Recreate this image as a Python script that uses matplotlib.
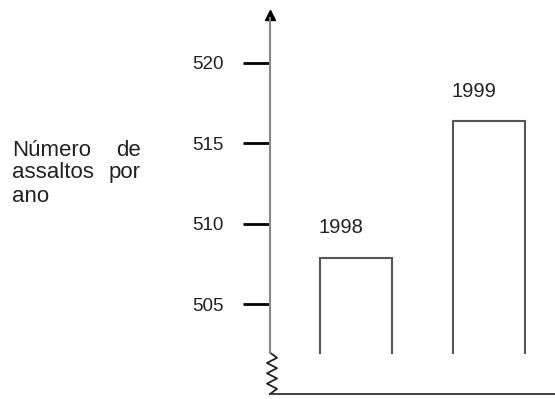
import matplotlib
matplotlib.use("Agg")
import matplotlib.pyplot as plt

years = ["1998", "1999"]
assaltos = [507.9, 516.4]
yticks = [505, 510, 515, 520]
bar_base = 502

plt.rcParams['font.family'] = ['Liberation Sans', 'DejaVu Sans']

W, H = 555, 399
fig = plt.figure(figsize=(W / 100, H / 100), dpi=100)

# main axes: left spine at x=270px, bottom at y=394px, top at y=10px
ax = fig.add_axes([270 / W, (H - 394) / H, (W - 270) / W, (394 - 10) / H])
ax.set_ylim(499.43, 523.28)
ax.set_xlim(0, 2.85)
ax.patch.set_alpha(0)

for s in ['top', 'right']:
    ax.spines[s].set_visible(False)
ax.spines['left'].set_bounds(bar_base, 522.8)
ax.spines['left'].set_color('#888888')
ax.spines['left'].set_linewidth(1.5)
ax.spines['bottom'].set_color('#333333')
ax.spines['bottom'].set_linewidth(1.3)

ax.set_xticks([])
ax.set_yticks(yticks)
ax.set_yticklabels([str(t) for t in yticks], fontsize=13.5, color='#222222')
ax.tick_params(axis='y', direction='out', length=19.5, width=2.0, color='black', pad=14)

# arrow head at the top of the y axis
ax.plot([0], [522.95], marker='^', ms=6.5, color='black', clip_on=False)

# zigzag break between bar base and the x axis
zx = [0, 0.07, -0.03, 0.07, -0.03, 0.07, -0.03, 0.07, 0]
zy = [bar_base - i * (bar_base - 499.43) / (len(zx) - 1) for i in range(len(zx))]
ax.plot(zx, zy, color='#222222', lw=1.3, clip_on=False)

# open-bottom bars
pos = [0.855, 2.19]
width = 0.72
for p, v, yr in zip(pos, assaltos, years):
    x0, x1 = p - width / 2, p + width / 2
    ax.plot([x0, x0, x1, x1], [bar_base, v, v, bar_base], color='#555555', lw=1.5,
            solid_joinstyle='miter')
    ax.text(p - 0.15, v + 1.5, yr, ha='center', va='baseline', fontsize=14.5, color='#222222')

# y label, justified like the original
lab = dict(fontsize=16, color='#222222', va='center')
fig.text(12 / W, 1 - 150 / H, "Número", ha='left', **lab)
fig.text(141 / W, 1 - 150 / H, "de", ha='right', **lab)
fig.text(12 / W, 1 - 173 / H, "assaltos", ha='left', **lab)
fig.text(141 / W, 1 - 173 / H, "por", ha='right', **lab)
fig.text(12 / W, 1 - 196 / H, "ano", ha='left', **lab)

fig.savefig("out.png", dpi=100)
